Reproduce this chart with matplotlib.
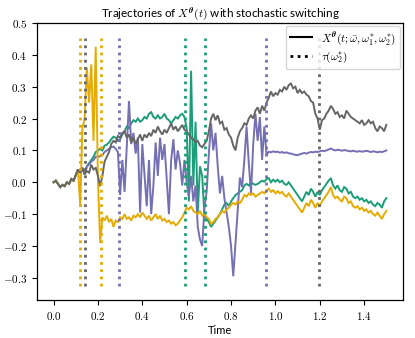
import numpy as np
import matplotlib
matplotlib.use("Agg")
import matplotlib.pyplot as plt
from matplotlib.lines import Line2D
from matplotlib.ticker import FuncFormatter

# ---------------- data ----------------
time = np.round(np.arange(151) * 0.01, 2)

shared_start = [0.000, 0.005, -0.005, -0.015, -0.008, -0.012, 0.000, -0.005, 0.010, 0.005,
                0.022, 0.040, 0.030, 0.045, 0.025]

gray_path = shared_start + [
    0.035, 0.030, 0.055, 0.040, 0.045,
    0.020, -0.012, 0.020, 0.065, 0.080, 0.095, 0.120, 0.130, 0.125, 0.145,
    0.140, 0.155, 0.160, 0.140, 0.150, 0.125, 0.140, 0.120, 0.135, 0.150,
    0.130, 0.150, 0.140, 0.155, 0.145, 0.165, 0.155, 0.175, 0.160, 0.150,
    0.165, 0.155, 0.170, 0.185, 0.165, 0.175, 0.160, 0.170, 0.180, 0.165,
    0.160, 0.150, 0.140, 0.135, 0.125, 0.130, 0.115, 0.110, 0.120, 0.130,
    0.160, 0.200, 0.215, 0.195, 0.210, 0.185, 0.190, 0.165, 0.170, 0.150,
    0.140, 0.115, 0.100, 0.140, 0.160, 0.170, 0.185, 0.180, 0.200, 0.210,
    0.200, 0.225, 0.235, 0.215, 0.240, 0.225, 0.250, 0.265, 0.285, 0.270,
    0.280, 0.275, 0.290, 0.285, 0.300, 0.290, 0.305, 0.310, 0.295, 0.300,
    0.280, 0.290, 0.280, 0.285, 0.275, 0.270, 0.255, 0.250, 0.215, 0.200,
    0.165, 0.195, 0.200, 0.215, 0.225, 0.240, 0.230, 0.215, 0.220, 0.205,
    0.210, 0.200, 0.225, 0.215, 0.205, 0.200, 0.195, 0.190, 0.185, 0.195,
    0.180, 0.185, 0.195, 0.185, 0.190, 0.170, 0.160, 0.175, 0.170, 0.160,
    0.180]

green_path = shared_start + [
    0.050, 0.060, 0.070, 0.080, 0.095,
    0.100, 0.105, 0.100, 0.115, 0.118, 0.125, 0.135, 0.143, 0.140, 0.130,
    0.135, 0.150, 0.160, 0.175, 0.170, 0.185, 0.195, 0.190, 0.200, 0.190,
    0.195, 0.205, 0.200, 0.215, 0.220, 0.205, 0.200, 0.210, 0.200, 0.205,
    0.215, 0.200, 0.195, 0.185, 0.195, 0.205, 0.200, 0.210, 0.215, 0.205,
    0.170, -0.060, 0.350, -0.010, 0.190, -0.095, 0.050, 0.020, -0.105, -0.115,
    -0.125, -0.140, -0.130, -0.120, -0.110, -0.100, -0.085, -0.070, -0.065, -0.075,
    -0.060, -0.050, -0.040, -0.035, -0.030, -0.025, -0.010, -0.005, -0.010, 0.000,
    -0.005, -0.008, -0.005, 0.000, 0.005, 0.002, 0.010, 0.013, 0.000, 0.008,
    0.002, 0.008, 0.000, 0.005, -0.005, -0.008, 0.000, -0.010, -0.020, -0.030,
    -0.040, -0.050, -0.060, -0.045, -0.030, -0.040, -0.020, -0.030, -0.045, -0.030,
    -0.040, -0.025, -0.015, -0.005, 0.005, 0.013, -0.010, -0.020, -0.010, -0.025,
    -0.030, -0.015, -0.020, -0.035, -0.030, -0.045, -0.050, -0.045, -0.055, -0.050,
    -0.060, -0.055, -0.065, -0.060, -0.070, -0.075, -0.065, -0.070, -0.080, -0.060,
    -0.050]

orange_path = shared_start[:12] + [
    -0.070, 0.170, 0.200, 0.360, 0.250, 0.370, 0.130, 0.425,
    0.010, -0.190, -0.110, -0.120, -0.105, -0.125, -0.115, -0.140, -0.120, -0.125,
    -0.110, -0.115, -0.100, -0.115, -0.110, -0.120, -0.105, -0.110, -0.100, -0.110,
    -0.095, -0.105, -0.115, -0.105, -0.120, -0.110, -0.100, -0.115, -0.105, -0.120,
    -0.115, -0.125, -0.120, -0.130, -0.125, -0.135, -0.130, -0.120, -0.110, -0.095,
    -0.080, -0.085, -0.075, -0.090, -0.095, -0.100, -0.090, -0.105, -0.100, -0.110,
    -0.115, -0.130, -0.125, -0.115, -0.110, -0.100, -0.090, -0.095, -0.085, -0.080,
    -0.070, -0.065, -0.070, -0.060, -0.065, -0.055, -0.040, -0.045, -0.035, -0.040,
    -0.035, -0.045, -0.040, -0.035, -0.030, -0.035, -0.025, -0.020, -0.030, -0.025,
    -0.035, -0.028, -0.035, -0.030, -0.040, -0.045, -0.035, -0.045, -0.055, -0.065,
    -0.075, -0.085, -0.095, -0.080, -0.065, -0.075, -0.055, -0.065, -0.080, -0.065,
    -0.075, -0.060, -0.050, -0.040, -0.030, -0.015, -0.040, -0.050, -0.045, -0.055,
    -0.060, -0.045, -0.050, -0.065, -0.060, -0.075, -0.080, -0.075, -0.085, -0.080,
    -0.090, -0.085, -0.095, -0.090, -0.100, -0.105, -0.095, -0.105, -0.115, -0.100,
    -0.090]

purple_path = shared_start + [
    0.050, 0.055, 0.065, 0.070, 0.080,
    0.080, 0.082, 0.085, 0.095, 0.100, 0.105, 0.110, 0.112, 0.105, 0.095,
    -0.040, 0.070, -0.030, 0.110, 0.255, 0.120, 0.155, 0.090, 0.140, -0.095,
    0.120, 0.020, -0.075, 0.070, -0.100, -0.010, 0.125, 0.020, 0.140, 0.070,
    0.120, 0.010, -0.100, 0.070, 0.135, 0.040, 0.100, 0.060, -0.010, 0.070,
    0.000, -0.045, 0.020, -0.060, -0.010, -0.140, -0.180, -0.200, -0.080, -0.030,
    0.090, 0.185, 0.100, 0.155, 0.050, -0.035, 0.020, -0.050, -0.095, -0.140,
    -0.200, -0.295, -0.190, -0.085, 0.015, -0.015, 0.070, 0.175, 0.060, -0.035,
    0.120, 0.215, 0.130, 0.205, 0.070, 0.175, 0.085, 0.096, 0.094, 0.097,
    0.095, 0.096, 0.093, 0.095, 0.092, 0.094, 0.091, 0.090, 0.088, 0.086,
    0.085, 0.088, 0.090, 0.092, 0.090, 0.093, 0.095, 0.094, 0.096, 0.095,
    0.097, 0.099, 0.098, 0.100, 0.103, 0.106, 0.102, 0.100, 0.102, 0.101,
    0.099, 0.101, 0.100, 0.098, 0.097, 0.099, 0.097, 0.096, 0.098, 0.096,
    0.097, 0.099, 0.097, 0.095, 0.097, 0.096, 0.094, 0.096, 0.095, 0.097,
    0.100]

switch_green = [0.594, 0.681]
switch_purple = [0.293, 0.958]
switch_orange = [0.117, 0.215]
switch_gray = [0.140, 1.198]
switch_span = [-0.327, 0.454]

x_ticks = [0.0, 0.2, 0.4, 0.6, 0.8, 1.0, 1.2, 1.4]
y_ticks = [-0.3, -0.2, -0.1, 0.0, 0.1, 0.2, 0.3, 0.4, 0.5]

# ---------------- style ----------------
plt.rcParams["mathtext.fontset"] = "cm"
plt.rcParams["font.family"] = ["Lato", "DejaVu Sans"]

c_green = "#1b9e77"
c_purple = "#7570b3"
c_orange = "#e6ab02"
c_gray = "#666666"

fig = plt.figure(figsize=(4.15, 3.38), dpi=100)
ax = fig.add_axes([0.089, 0.112, 0.882, 0.820])

series = [(green_path, c_green), (purple_path, c_purple),
          (orange_path, c_orange), (gray_path, c_gray)]
for vals, col in series:
    ax.plot(time, vals, color=col, lw=1.4, solid_joinstyle="miter")

for sw, col in [(switch_orange, c_orange), (switch_gray, c_gray),
                (switch_purple, c_purple), (switch_green, c_green)]:
    ax.vlines(sw, switch_span[0], switch_span[1], colors=col,
              linestyles=(0, (1, 1.6)), lw=2)

ax.set_xlim(-0.075, 1.575)
ax.set_ylim(-0.37, 0.5)
ax.set_xticks(x_ticks)
ax.set_yticks(y_ticks)
fmt = FuncFormatter(lambda v, p: f"${v:.1f}$")
ax.xaxis.set_major_formatter(fmt)
ax.yaxis.set_major_formatter(fmt)
ax.tick_params(labelsize=8, length=3.5, width=0.8)
for s in ax.spines.values():
    s.set_linewidth(0.9)

ax.set_xlabel("Time", fontsize=8, labelpad=2)
ax.set_title(r"Trajectories of $X^{\boldsymbol{\theta}}(t)$ with stochastic switching",
             fontsize=8.4, pad=4)

handles = [Line2D([], [], color="black", lw=1.5),
           Line2D([], [], color="black", lw=2, linestyle=(0, (1, 1.6)))]
labels = [r"$X^{\boldsymbol{\theta}}(t;\bar{\omega},\omega_1^{*},\omega_2^{*})$",
          r"$\tau(\omega_2^{*})$"]
ax.legend(handles, labels, loc="upper right", fontsize=8, borderaxespad=0.25,
          handlelength=2.0, framealpha=0.8, borderpad=0.35, labelspacing=0.3)

fig.savefig("out.png", dpi=100)
